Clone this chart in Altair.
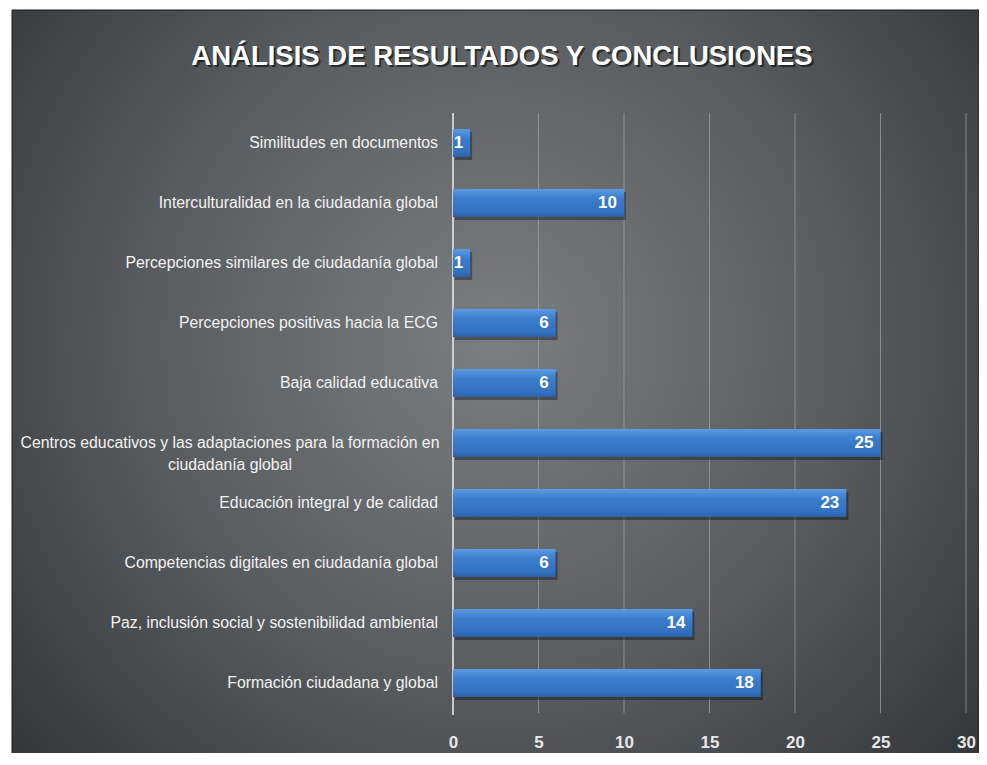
import altair as alt
import pandas as pd

categories = [
    "Similitudes en documentos",
    "Interculturalidad en la ciudadanía global",
    "Percepciones similares de ciudadanía global",
    "Percepciones positivas hacia la ECG",
    "Baja calidad educativa",
    "Centros educativos y las adaptaciones para la formación en ciudadanía global",
    "Educación integral y de calidad",
    "Competencias digitales en ciudadanía global",
    "Paz, inclusión social y sostenibilidad ambiental",
    "Formación ciudadana y global",
]
values = [1, 10, 1, 6, 6, 25, 23, 6, 14, 18]
x_ticks = [0, 5, 10, 15, 20, 25, 30]
title_text = "ANÁLISIS DE RESULTADOS Y CONCLUSIONES"
long_label = ["Centros educativos y las adaptaciones para la formación en", "ciudadanía global"]

df = pd.DataFrame({"cat": categories, "val": values})
df["single"] = [c != categories[5] for c in categories]
df_lines = pd.DataFrame({"cat": [categories[5]], "lines": [long_label]})
ticks_df = pd.DataFrame({"t": x_ticks})
one = pd.DataFrame({"a": [0]})

W, H = 513, 600
FONT = "Liberation Sans, Arial, sans-serif"

xscale = alt.Scale(domain=[0, 30], nice=False, zero=True)
yscale = alt.Scale(domain=categories, paddingInner=0.533, paddingOuter=0.2665)

bg = alt.Chart(one).mark_rect(
    color=alt.Gradient(
        gradient="radial",
        stops=[alt.GradientStop(color="#7b7e81", offset=0),
               alt.GradientStop(color="#5a5d60", offset=0.45),
               alt.GradientStop(color="#25282b", offset=1)],
        x1=0.5, y1=0.45, r1=0, x2=0.5, y2=0.45, r2=0.78,
    ),
    stroke="#1a1a1a", strokeWidth=1,
).encode(x=alt.value(-441), x2=alt.value(526), y=alt.value(-103), y2=alt.value(650))

grid = alt.Chart(ticks_df).mark_rule(color="#a4a7aa", strokeWidth=1, opacity=0.7).encode(
    x=alt.X("t:Q", scale=xscale,
            axis=alt.Axis(values=x_ticks, grid=False, domain=False, ticks=False, title=None,
                          labelFont=FONT, labelFontWeight="bold", labelFontSize=17,
                          labelColor="#e8e8e8", labelPadding=21, labelFlush=False,
                          labelOverlap=False, zindex=1)),
    y=alt.value(0), y2=alt.value(H),
)

zero_rule = alt.Chart(one).mark_rule(color="#e6e6e6", strokeWidth=1.5).encode(
    x=alt.value(0), y=alt.value(0), y2=alt.value(H + 2)
)

base = alt.Chart(df).encode(
    y=alt.Y("cat:N", scale=yscale, sort=categories, axis=None),
)

shadow = base.mark_bar(color="#000000", opacity=0.35, xOffset=2, yOffset=3).encode(
    x=alt.X("val:Q", scale=xscale)
)

bars = base.mark_bar(
    color=alt.Gradient(
        gradient="linear",
        stops=[alt.GradientStop(color="#5a9be2", offset=0),
               alt.GradientStop(color="#3b7ccc", offset=0.35),
               alt.GradientStop(color="#3372c0", offset=0.8),
               alt.GradientStop(color="#2a62a8", offset=1)],
        x1=0, x2=0, y1=0, y2=1,
    ),
).encode(x=alt.X("val:Q", scale=xscale))

val_labels = base.mark_text(
    align="right", baseline="middle", dx=-7, font=FONT, fontWeight="bold",
    fontSize=17, color="#ffffff",
).encode(x=alt.X("val:Q", scale=xscale), text="val:Q")

cat_labels = base.mark_text(
    align="right", baseline="middle", font=FONT, fontSize=15.8, color="#f2f2f2",
).encode(x=alt.value(-15), text="cat:N").transform_filter("datum.single")

long_lbl = alt.Chart(df_lines).mark_text(
    align="center", baseline="middle", font=FONT, fontSize=15.8, color="#f2f2f2",
    lineHeight=22,
).encode(
    y=alt.Y("cat:N", scale=yscale, sort=categories, axis=None),
    x=alt.value(-223),
    text="lines",
)

title_shadow = alt.Chart(one).mark_text(
    text=title_text, align="center", baseline="middle", font=FONT,
    fontWeight="bold", fontSize=27.5, color="#000000", opacity=0.55, dx=2, dy=2,
).encode(x=alt.value(49), y=alt.value(-56))
title = alt.Chart(one).mark_text(
    text=title_text, align="center", baseline="middle", font=FONT,
    fontWeight="bold", fontSize=27.5, color="#ffffff",
).encode(x=alt.value(49), y=alt.value(-56))

chart = alt.layer(
    bg, grid, zero_rule, shadow, bars, val_labels, cat_labels, long_lbl, title_shadow, title
).properties(
    width=W, height=H,
    padding={"left": 445, "top": 105, "right": 13, "bottom": 40},
    autosize=alt.AutoSizeParams(type="none"),
).configure_view(stroke=None)

chart.save("out.html", embed_options={"renderer": "svg", "actions": False})
